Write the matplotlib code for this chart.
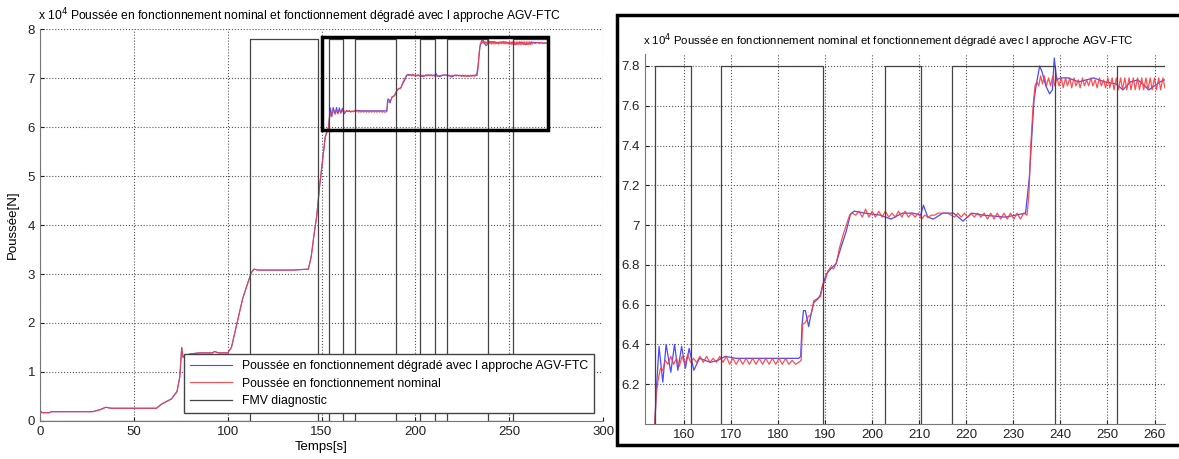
import matplotlib.pyplot as plt
from matplotlib.patches import Rectangle
import numpy as np

plt.rcParams['font.family'] = ['Liberation Sans', 'DejaVu Sans']

# common start of both thrust curves (x 10^4 N)
prefix_t = [0, 1, 5, 6, 28, 32, 35, 38, 62, 65, 70, 73, 74.5, 75.5, 76.2, 77, 80, 85, 92, 93, 95, 100,
            102, 105, 108, 111, 112.5, 114, 116, 125, 135, 143, 144.5, 146, 147.5, 149, 150.5, 152, 153.8]
prefix_v = [0.22, 0.17, 0.17, 0.19, 0.19, 0.23, 0.28, 0.26, 0.26, 0.35, 0.45, 0.6, 0.9, 1.5, 1.3, 1.33, 1.37,
            1.39, 1.39, 1.42, 1.39, 1.39, 1.5, 2.0, 2.5, 2.85, 3.02, 3.1, 3.08, 3.08, 3.08, 3.1, 3.35, 3.8, 4.2,
            4.8, 5.3, 5.8, 6.0]

# degraded (AGV-FTC) after fault
blue_t = [154.2, 154.7, 155.5, 156.2, 157.2, 158.0, 158.7, 159.5, 160.3, 161.1, 162.1, 163.3, 165.6, 167.2,
          168.8, 171, 175, 180, 184.4, 184.8, 185.1, 185.4, 185.8, 186.5, 186.9, 187.6, 188.5, 189.0, 189.5,
          190.3, 191.2, 192.3, 193.4, 194.5, 195.4, 196.2, 198.5, 201.7, 204.0, 206.4, 208.7, 210.3, 210.9,
          211.8, 213.0, 215.0, 217.3, 219.3, 221.2, 223.6, 228.3, 232.6, 233.4, 234.4, 234.9, 235.6, 236.1,
          236.9, 237.7, 238.3, 238.7, 239.2, 240.0, 241.6, 243.9, 247.1, 249.4, 251.8, 253.3, 254.9, 256.5,
          258.8, 261.2, 262.0, 266, 270]
blue_v = [6.2, 6.39, 6.21, 6.40, 6.26, 6.40, 6.27, 6.39, 6.28, 6.38, 6.27, 6.33, 6.31, 6.32, 6.34, 6.33,
          6.33, 6.33, 6.33, 6.34, 6.50, 6.57, 6.57, 6.49, 6.54, 6.61, 6.63, 6.65, 6.70, 6.755, 6.78, 6.805,
          6.89, 6.97, 7.057, 7.07, 7.06, 7.05, 7.03, 7.06, 7.06, 7.05, 7.10, 7.04, 7.03, 7.06, 7.06, 7.02,
          7.06, 7.05, 7.04, 7.06, 7.24, 7.63, 7.71, 7.80, 7.77, 7.70, 7.66, 7.68, 7.84, 7.73, 7.74, 7.74,
          7.72, 7.74, 7.72, 7.71, 7.68, 7.72, 7.73, 7.68, 7.72, 7.73, 7.72, 7.71]

# nominal after 153.8 s, (t, value) pairs
red_tail = [
    (154.1, 6.15), (154.5, 6.22), (155.0, 6.28), (155.5, 6.27), (156.0, 6.32), (156.6, 6.30), (157.2, 6.34),
    (157.8, 6.30), (158.4, 6.33), (159.0, 6.29), (159.6, 6.34), (160.2, 6.30), (160.8, 6.35), (161.4, 6.31),
    (162.0, 6.33), (162.7, 6.31), (163.4, 6.34), (164.1, 6.31), (164.8, 6.34), (165.5, 6.31), (166.2, 6.33),
    (166.9, 6.31), (167.6, 6.34), (168.3, 6.31), (169.0, 6.34), (169.7, 6.30), (170.4, 6.33), (171.1, 6.30),
    (171.8, 6.33), (172.5, 6.30), (173.2, 6.33), (173.9, 6.30), (174.6, 6.33), (175.3, 6.30), (176.0, 6.33),
    (176.7, 6.30), (177.4, 6.33), (178.1, 6.30), (178.8, 6.33), (179.5, 6.30), (180.2, 6.33), (180.9, 6.30),
    (181.6, 6.33), (182.3, 6.30), (183.0, 6.32), (183.7, 6.30), (184.4, 6.31), (184.9, 6.32), (185.2, 6.50),
    (185.8, 6.51), (186.4, 6.54), (187.0, 6.55), (187.6, 6.62), (188.3, 6.63), (189.0, 6.64), (189.5, 6.70),
    (190.0, 6.72), (190.6, 6.77), (191.2, 6.79), (191.8, 6.78), (192.4, 6.81), (193.0, 6.88), (193.8, 6.95),
    (194.5, 7.00), (195.2, 7.05), (195.8, 7.06), (196.5, 7.05), (197.2, 7.07), (197.9, 7.04), (198.6, 7.08),
    (199.3, 7.04), (200.0, 7.07), (200.7, 7.04), (201.4, 7.07), (202.1, 7.04), (202.8, 7.07), (203.5, 7.04),
    (204.2, 7.06), (204.9, 7.04), (205.6, 7.07), (206.3, 7.04), (207.0, 7.07), (207.7, 7.04), (208.4, 7.06),
    (209.1, 7.04), (209.8, 7.06), (210.5, 7.03), (211.2, 7.05), (211.9, 7.04), (212.6, 7.05), (213.3, 7.05),
    (214.0, 7.06), (215.0, 7.06), (216.0, 7.06), (216.8, 7.05), (217.5, 7.04), (218.2, 7.06), (218.9, 7.04),
    (219.6, 7.06), (220.3, 7.04), (221.0, 7.06), (221.7, 7.04), (222.4, 7.06), (223.1, 7.04), (223.8, 7.06),
    (224.5, 7.03), (225.2, 7.06), (225.9, 7.03), (226.6, 7.06), (227.3, 7.03), (228.0, 7.06), (228.7, 7.03),
    (229.4, 7.06), (230.1, 7.03), (230.8, 7.06), (231.5, 7.03), (232.2, 7.06), (232.9, 7.05), (233.3, 7.15),
    (233.7, 7.40), (234.2, 7.60), (234.6, 7.70), (235.0, 7.72), (235.4, 7.70), (235.8, 7.75), (236.2, 7.71),
    (236.6, 7.75), (237.0, 7.70), (237.5, 7.74), (237.9, 7.70), (238.4, 7.75), (238.8, 7.70), (239.3, 7.74),
    (239.7, 7.70), (240.2, 7.74), (240.6, 7.69), (241.1, 7.74), (241.5, 7.70), (242.0, 7.74), (242.4, 7.69),
    (242.9, 7.74), (243.3, 7.70), (243.8, 7.73), (244.2, 7.69), (244.7, 7.74), (245.1, 7.70), (245.6, 7.73),
    (246.0, 7.70), (246.5, 7.74), (246.9, 7.70), (247.4, 7.73), (247.8, 7.69), (248.3, 7.74), (248.7, 7.70),
    (249.2, 7.73), (249.6, 7.69), (250.1, 7.74), (250.5, 7.69), (251.0, 7.74), (251.4, 7.68), (251.9, 7.74),
    (252.3, 7.68), (252.8, 7.74), (253.2, 7.68), (253.7, 7.74), (254.1, 7.68), (254.6, 7.74), (255.0, 7.68),
    (255.5, 7.74), (255.9, 7.68), (256.4, 7.74), (256.8, 7.68), (257.3, 7.74), (257.7, 7.68), (258.2, 7.74),
    (258.6, 7.68), (259.1, 7.74), (259.5, 7.68), (260.0, 7.74), (260.4, 7.68), (260.9, 7.74), (261.3, 7.68),
    (261.8, 7.74), (262.2, 7.69), (263.0, 7.72), (264.0, 7.70), (265.0, 7.73), (266.0, 7.70), (267.0, 7.73),
    (268.0, 7.70), (269.0, 7.72), (270.0, 7.71)]

# FMV diagnostic switching times / levels
fmv_t = [0, 112, 148, 153.8, 161.5, 167.9, 189.5, 202.7, 210.3, 216.9, 238.8, 252, 270]
fmv_v = [0, 7.8, 0, 7.8, 0, 7.8, 0, 7.8, 0, 7.8, 0, 7.8, 7.8]

title = u'Poussée en fonctionnement nominal et fonctionnement dégradé avec l approche AGV-FTC'
labels = [u'Poussée en fonctionnement dégradé avec l approche AGV-FTC',
          u'Poussée en fonctionnement nominal', 'FMV diagnostic']

bt = prefix_t + blue_t
bv = prefix_v + blue_v
rt = prefix_t + [p[0] for p in red_tail]
rv = prefix_v + [p[1] for p in red_tail]

fig = plt.figure(figsize=(11.79, 4.59), dpi=100)

def draw(ax, lw):
    ax.plot(bt, bv, color='#4a4aff', lw=lw, label=labels[0])
    ax.plot(rt, rv, color='#ff3c3c', lw=lw, alpha=0.9, label=labels[1])
    ax.plot(fmv_t, fmv_v, color='#444444', lw=0.9, drawstyle='steps-post', label=labels[2])
    ax.grid(True, linestyle=':', color='#555555', lw=0.8)
    for s in ['top', 'right']:
        ax.spines[s].set_visible(False)
    for s in ['left', 'bottom']:
        ax.spines[s].set_color('#777777')
    ax.tick_params(direction='in', labelsize=9.5, colors='#222222', length=3)

# left: full run
ax1 = fig.add_axes([0.0339, 0.0828, 0.4776, 0.854])
draw(ax1, 0.8)
ax1.set_xlim(0, 300)
ax1.set_ylim(0, 8)
ax1.set_xticks(range(0, 301, 50))
ax1.set_yticks(range(0, 9))
ax1.set_xlabel('Temps[s]', fontsize=9.5, labelpad=2)
ax1.set_ylabel(u'Poussée[N]', fontsize=9.5, labelpad=6)
ax1.set_title(r'x 10$^4$ ' + title, loc='left', fontsize=8.7, pad=6, x=-0.004)
ax1.add_patch(Rectangle((150.5, 5.94), 120, 1.9, fill=False, ec='black', lw=2.5, zorder=5))
ax1.legend(loc='lower right', bbox_to_anchor=(0.995, 0.004), fontsize=8.8, fancybox=False,
           edgecolor='#444444', framealpha=1, handlelength=3.4, borderpad=0.5, labelspacing=0.45)

# white panel with thick frame on the right
fig.patches.append(Rectangle((617 / 1179, 1 - 445 / 459), 0.48, 430 / 459, transform=fig.transFigure,
                             facecolor='white', edgecolor='black', lw=2.5, zorder=0.5))

# right: zoom
ax2 = fig.add_axes([0.547, 0.0763, 0.441, 0.806])
ax2.set_zorder(2)
draw(ax2, 0.9)
ax2.set_xlim(151.7, 262.2)
ax2.set_ylim(6.0, 7.86)
ax2.set_xticks(range(160, 261, 10))
ax2.set_yticks([6.2, 6.4, 6.6, 6.8, 7.0, 7.2, 7.4, 7.6, 7.8])
ax2.set_yticklabels(['6.2', '6.4', '6.6', '6.8', '7', '7.2', '7.4', '7.6', '7.8'])
ax2.set_title(r'x 10$^4$ ' + title, loc='left', fontsize=8.2, pad=7, x=-0.004)

fig.savefig('out.png', dpi=100)
